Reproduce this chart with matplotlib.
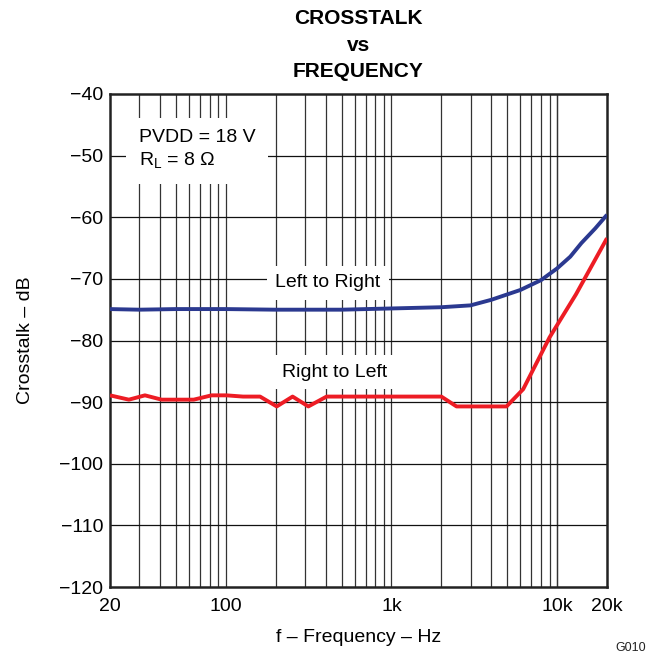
import numpy as np
import matplotlib
matplotlib.use('Agg')
from matplotlib import pyplot as plt
from matplotlib.ticker import FixedLocator, NullFormatter

plt.rcParams['font.family'] = ['Liberation Sans', 'DejaVu Sans']
plt.rcParams['axes.unicode_minus'] = True

# Left to Right crosstalk
lr_freq = [20, 30, 50, 100, 200, 500, 1000, 2000, 3000, 4000, 6000, 8000, 10000, 12000, 14000, 17000, 20000]
lr_db = [-74.9, -75.0, -74.9, -74.9, -75.0, -75.0, -74.8, -74.6, -74.3, -73.4, -71.8, -70.2, -68.3, -66.4, -64.2, -61.8, -59.6]

# Right to Left crosstalk
rl_freq = [20, 26, 32.5, 41, 64, 82, 101, 127, 161, 203, 253, 315, 406, 2000, 2470, 4950, 6240, 9000, 13000, 20000]
rl_db = [-88.9, -89.6, -88.9, -89.6, -89.6, -88.9, -88.9, -89.1, -89.1, -90.7, -89.1, -90.7, -89.1, -89.1, -90.7, -90.7, -87.9, -79.5, -72.5, -63.4]

xticks = [20, 100, 1000, 10000, 20000]
xticklabels = ['20', '100', '1k', '10k', '20k']
yticks = list(range(-120, -39, 10))

fig = plt.figure(figsize=(6.47, 6.65), dpi=100)
ax = fig.add_axes([110 / 647, 1 - 587 / 665, 497 / 647, 493 / 665])

ax.plot(lr_freq, lr_db, color='#2B3990', lw=2.8, zorder=3, solid_capstyle='butt')
ax.plot(rl_freq, rl_db, color='#ED1C24', lw=2.8, zorder=3, solid_capstyle='butt')

ax.set_xscale('log')
ax.set_xlim(20, 20000)
ax.set_ylim(-120, -40)

# grid
vlines = [f * d for d in (10, 100, 1000) for f in range(2, 10)] + [10000, 20000]
vlines = [v for v in vlines if 20 < v < 20000] + [100, 1000, 10000]
for v in vlines:
    ax.axvline(v, color='#333333', lw=0.9, zorder=1)
for y in yticks[1:-1]:
    ax.axhline(y, color='#111111', lw=0.9, zorder=1)

ax.xaxis.set_major_locator(FixedLocator(xticks))
ax.set_xticklabels(xticklabels)
ax.xaxis.set_minor_formatter(NullFormatter())
ax.set_yticks(yticks)
ax.set_yticklabels(['\u2212%d' % abs(y) for y in yticks])
ax.tick_params(which='both', length=0, labelsize=14, pad=5)
ax.tick_params(axis='x', pad=8)

for s in ax.spines.values():
    s.set_linewidth(1.8)
    s.set_color('#222222')

ax.set_xlabel('f \u2013 Frequency \u2013 Hz', fontsize=14, labelpad=10)
ax.set_ylabel('Crosstalk \u2013 dB', fontsize=14, labelpad=18)
ax.set_title('CROSSTALK\nvs\nFREQUENCY', fontsize=15, fontweight='bold', linespacing=1.52, pad=12)

box = dict(facecolor='white', edgecolor='none', pad=6)
ax.text(0.438, 0.617, 'Left to Right', transform=ax.transAxes, fontsize=14,
        ha='center', va='center', bbox=box, zorder=2)
ax.text(0.451, 0.436, 'Right to Left', transform=ax.transAxes, fontsize=14,
        ha='center', va='center', bbox=box, zorder=2)
ax.text(0.058, 0.928, 'PVDD = 18 V\nR$_\\mathregular{L}$ = 8 \u03a9', transform=ax.transAxes,
        fontsize=14, ha='left', va='top', linespacing=1.3, bbox=dict(facecolor='white', edgecolor='none', pad=9), zorder=2)

fig.text(615 / 647, 1 - 648 / 665, 'G010', fontsize=9, ha='left', va='center', color='#222222')

fig.savefig('out.png', dpi=100)
